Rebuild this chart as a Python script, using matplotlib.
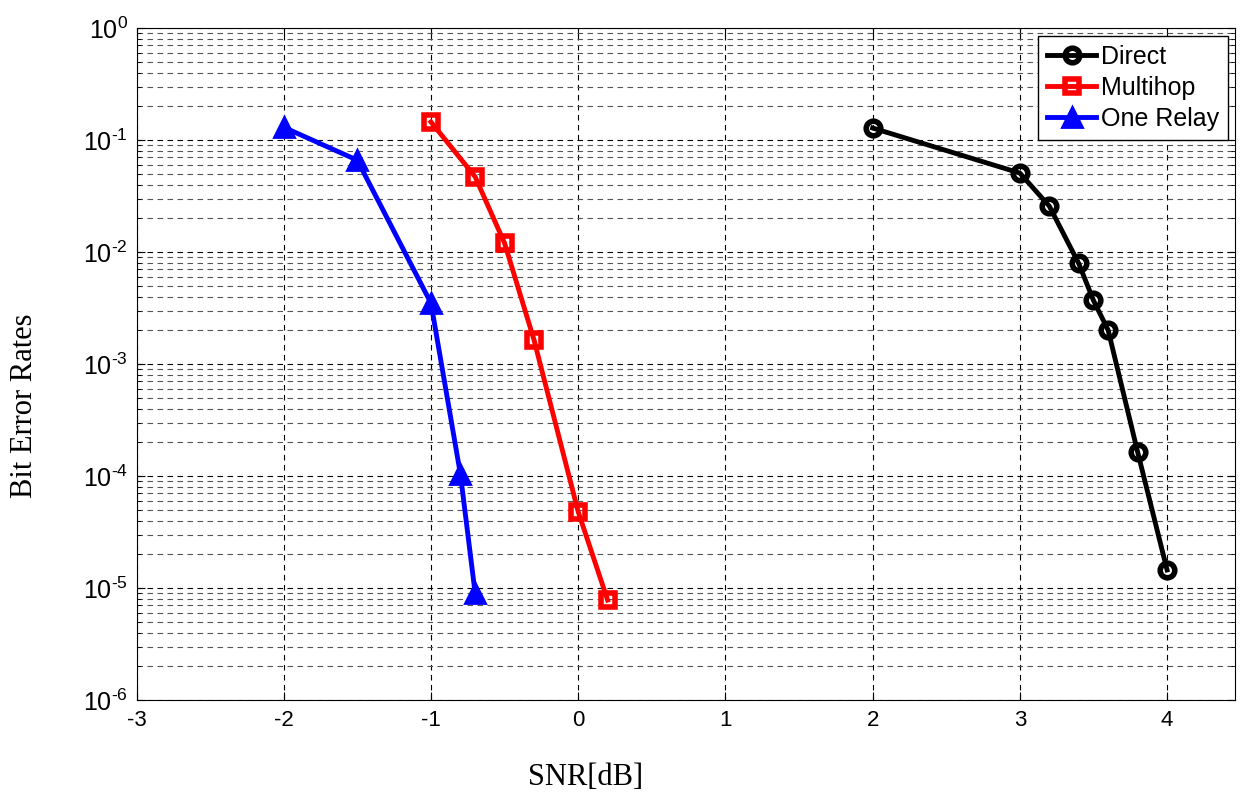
import matplotlib
matplotlib.use("Agg")
import matplotlib.pyplot as plt
from matplotlib.ticker import LogLocator, NullFormatter, FuncFormatter
import numpy as np

plt.rcParams['axes.unicode_minus'] = False
plt.rcParams['mathtext.fontset'] = 'custom'
plt.rcParams['mathtext.rm'] = 'Liberation Sans'

snr_direct = [2, 3, 3.2, 3.4, 3.5, 3.6, 3.8, 4.0]
ber_direct = [0.128, 0.0507, 0.0257, 0.0079, 0.0037, 0.002, 1.64e-4, 1.45e-5]

snr_multihop = [-1, -0.7, -0.5, -0.3, 0, 0.2]
ber_multihop = [0.145, 0.047, 0.012, 1.64e-3, 4.8e-5, 7.8e-6]

snr_relay = [-2, -1.5, -1, -0.8, -0.7]
ber_relay = [0.13, 0.066, 0.0035, 1.04e-4, 9e-6]

xticks = [-3, -2, -1, 0, 1, 2, 3, 4]
yticks = [1e-6, 1e-5, 1e-4, 1e-3, 1e-2, 1e-1, 1]


def pow10_label(v, pos):
    e = int(round(np.log10(v)))
    s = str(e).replace("-", "\u2010")
    return r"$\mathregular{10^{%s}}$" % s


fig = plt.figure(figsize=(12.41, 7.96), dpi=100)
ax = fig.add_axes([0.110, 0.1206, 0.885, 0.8442])

ax.semilogy(snr_direct, ber_direct, color="black", lw=3.5, marker="o", ms=10.5,
            mew=4, mfc="none", label="Direct")
ax.semilogy(snr_multihop, ber_multihop, color="red", lw=3.5, marker="s", ms=10,
            mew=4, mfc="none", label="Multihop")
ax.semilogy(snr_relay, ber_relay, color="blue", lw=3.5, marker="^", ms=15,
            mew=2, mfc="blue", label="One Relay")

ax.set_xlim(-3, 4.46)
ax.set_ylim(1e-6, 1)
ax.set_xticks(xticks)
ax.set_xticklabels([str(v) for v in xticks])
ax.set_yticks(yticks)
ax.yaxis.set_minor_locator(LogLocator(base=10, subs=range(2, 10), numticks=100))
ax.yaxis.set_minor_formatter(NullFormatter())
ax.yaxis.set_major_formatter(FuncFormatter(pow10_label))
ax.set_ylim(1e-6, 1)

ax.grid(True, which="major", ls=(0, (5, 4)), color="black", lw=0.8)
ax.grid(True, which="minor", axis="y", ls=(0, (5, 4)), color="#555555", lw=0.8)
ax.tick_params(which="both", direction="in", top=True, right=True)
ax.tick_params(which="major", length=6, pad=7)
ax.tick_params(which="minor", length=3)
ax.tick_params(axis="x", labelsize=16)
ax.tick_params(axis="y", labelsize=18, pad=6)
fig.canvas.draw()
for lab in ax.get_xticklabels() + ax.get_yticklabels():
    lab.set_family("Liberation Sans")

ax.set_xlabel("SNR[dB]", family="Liberation Serif", fontsize=22)
ax.xaxis.set_label_coords(0.409, -0.094)
ax.set_ylabel("Bit Error Rates", family="Liberation Serif", fontsize=22)
ax.yaxis.set_label_coords(-0.089, 0.4375)

leg = ax.legend(loc="upper right", fancybox=False, edgecolor="black", framealpha=1,
                prop={"family": "Liberation Sans", "size": 18}, handlelength=1.95,
                borderpad=0.35, labelspacing=0.28, handletextpad=0.2,
                borderaxespad=0, bbox_to_anchor=(0.9936, 0.988))
leg.get_frame().set_linewidth(1.0)

fig.savefig("out.png", dpi=100)
